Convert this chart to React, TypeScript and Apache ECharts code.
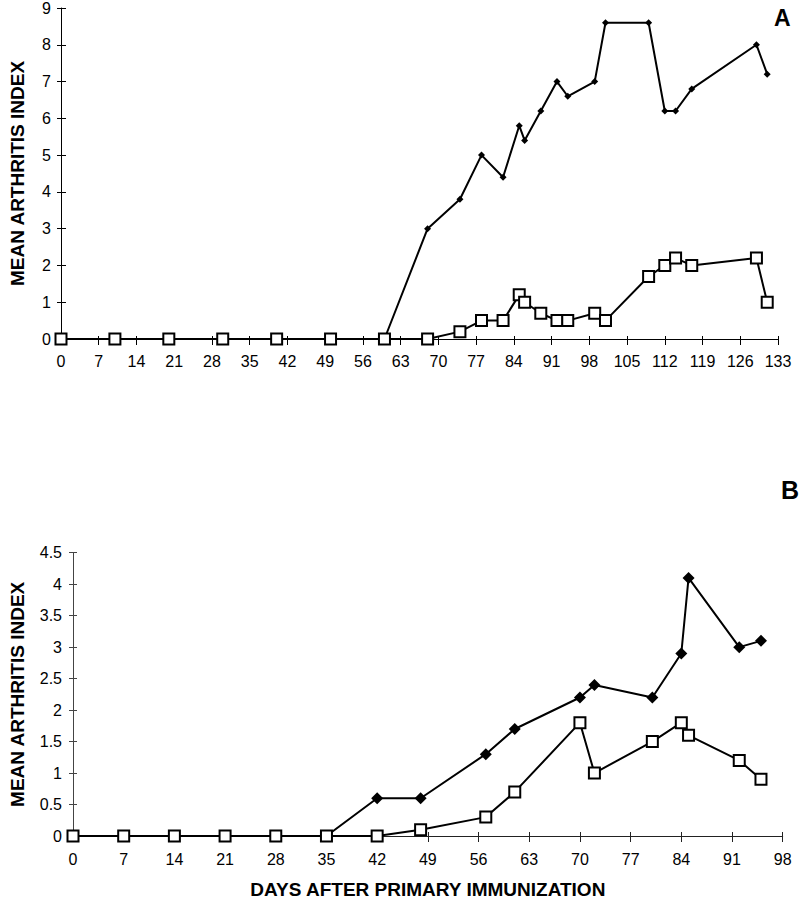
import React, { useEffect, useRef } from "react";
import * as echarts from "echarts";

// Panel A
const daysA = [0, 10, 20, 30, 40, 50, 60, 68, 74, 78, 82, 85, 86, 89, 92, 94, 99, 101, 109, 112, 114, 117, 129, 131];
const diamondA = [0, 0, 0, 0, 0, 0, 0, 3.0, 3.8, 5.0, 4.4, 5.8, 5.4, 6.2, 7.0, 6.6, 7.0, 8.6, 8.6, 6.2, 6.2, 6.8, 8.0, 7.2];
const squareA = [0, 0, 0, 0, 0, 0, 0, 0, 0.2, 0.5, 0.5, 1.2, 1.0, 0.7, 0.5, 0.5, 0.7, 0.5, 1.7, 2.0, 2.2, 2.0, 2.2, 1.0];

// Panel B
const daysB = [0, 7, 14, 21, 28, 35, 42, 48, 57, 61, 70, 72, 80, 84, 85, 92, 95];
const diamondB = [0, 0, 0, 0, 0, 0, 0.6, 0.6, 1.3, 1.7, 2.2, 2.4, 2.2, 2.9, 4.1, 3.0, 3.1];
const squareB = [0, 0, 0, 0, 0, 0, 0, 0.1, 0.3, 0.7, 1.8, 1.0, 1.5, 1.8, 1.6, 1.2, 0.9];

const yTitle = "MEAN ARTHRITIS INDEX";
const xTitle = "DAYS AFTER PRIMARY IMMUNIZATION";
const panelLabels = ["A", "B"];

const FONT = "Liberation Sans";

function zip(xs: number[], ys: number[]) {
  return xs.map((x, i) => [x, ys[i]]);
}

export default function App() {
  const ref = useRef<HTMLDivElement>(null);

  useEffect(() => {
    document.body.style.margin = "0";
    const chart = echarts.init(ref.current!, null, { renderer: "svg" });

    const axisCommon = (extra: any) => ({
      type: "value",
      splitLine: { show: false },
      ...extra,
    });

    const option: any = {
      animation: false,
      backgroundColor: "#fff",
      grid: [
        { left: 53, right: 22, top: 8, height: 331, containLabel: false },
        { left: 68.5, right: 17.3, top: 552.7, height: 285, containLabel: false },
      ],
      xAxis: [
        axisCommon({
          gridIndex: 0, position: "bottom", min: 0, max: 133, interval: 7,
          axisLine: { show: true, lineStyle: { color: "#000", width: 1 } },
          axisTick: { show: true, length: 6, lineStyle: { color: "#000" } },
          axisLabel: { fontFamily: FONT, fontSize: 16, color: "#000", margin: 14 },
        }),
        axisCommon({
          gridIndex: 0, position: "bottom", min: 0, max: 133, interval: 7,
          axisLine: { show: false },
          axisTick: { show: true, inside: true, length: 3, lineStyle: { color: "#000" } },
          axisLabel: { show: false },
        }),
        axisCommon({
          gridIndex: 1, position: "bottom", min: 0, max: 98, interval: 7,
          name: xTitle, nameLocation: "middle", nameGap: 44,
          nameTextStyle: { fontFamily: FONT, fontSize: 19, fontWeight: "bold", color: "#000" },
          axisLine: { show: true, lineStyle: { color: "#222", width: 1 } },
          axisTick: { show: true, length: 6, lineStyle: { color: "#222" } },
          axisLabel: { fontFamily: FONT, fontSize: 16, color: "#000", margin: 15 },
        }),
        axisCommon({
          gridIndex: 1, position: "bottom", min: 0, max: 98, interval: 7,
          axisLine: { show: false },
          axisTick: { show: true, inside: true, length: 4, lineStyle: { color: "#222" } },
          axisLabel: { show: false },
        }),
      ],
      yAxis: [
        axisCommon({
          gridIndex: 0, position: "left", min: 0, max: 9, interval: 1,
          name: yTitle, nameLocation: "middle", nameGap: 34, nameRotate: 90,
          nameTextStyle: { fontFamily: FONT, fontSize: 19, fontWeight: "bold", color: "#000" },
          axisLine: { show: true, lineStyle: { color: "#000", width: 1 } },
          axisTick: { show: true, length: 4, lineStyle: { color: "#000" } },
          axisLabel: { fontFamily: FONT, fontSize: 16, color: "#000", margin: 10 },
        }),
        axisCommon({
          gridIndex: 0, position: "left", min: 0, max: 9, interval: 1,
          axisLine: { show: false },
          axisTick: { show: true, inside: true, length: 5, lineStyle: { color: "#000" } },
          axisLabel: { show: false },
        }),
        axisCommon({
          gridIndex: 1, position: "left", min: 0, max: 4.5, interval: 0.5,
          name: yTitle, nameLocation: "middle", nameGap: 46, nameRotate: 90,
          nameTextStyle: { fontFamily: FONT, fontSize: 19, fontWeight: "bold", color: "#000" },
          axisLine: { show: true, lineStyle: { color: "#444", width: 1 } },
          axisTick: { show: true, length: 4, lineStyle: { color: "#444" } },
          axisLabel: { fontFamily: FONT, fontSize: 16, color: "#000", margin: 11 },
        }),
        axisCommon({
          gridIndex: 1, position: "left", min: 0, max: 4.5, interval: 0.5,
          axisLine: { show: false },
          axisTick: { show: true, inside: true, length: 4, lineStyle: { color: "#444" } },
          axisLabel: { show: false },
        }),
      ],
      series: [
        {
          type: "line", xAxisIndex: 0, yAxisIndex: 0, data: zip(daysA, diamondA),
          symbol: "diamond", symbolSize: 7, showAllSymbol: true,
          lineStyle: { color: "#000", width: 2 },
          itemStyle: { color: "#000", borderWidth: 0 },
          z: 2,
        },
        {
          type: "line", xAxisIndex: 0, yAxisIndex: 0, data: zip(daysA, squareA),
          symbol: "rect", symbolSize: 11, showAllSymbol: true,
          lineStyle: { color: "#000", width: 2 },
          itemStyle: { color: "#fff", borderColor: "#000", borderWidth: 2 },
          z: 3,
        },
        {
          type: "line", xAxisIndex: 2, yAxisIndex: 2, data: zip(daysB, diamondB),
          symbol: "diamond", symbolSize: 12, showAllSymbol: true,
          lineStyle: { color: "#000", width: 2 },
          itemStyle: { color: "#000", borderWidth: 0 },
          z: 2,
        },
        {
          type: "line", xAxisIndex: 2, yAxisIndex: 2, data: zip(daysB, squareB),
          symbol: "rect", symbolSize: 11, showAllSymbol: true,
          lineStyle: { color: "#000", width: 2 },
          itemStyle: { color: "#fff", borderColor: "#000", borderWidth: 2 },
          z: 3,
        },
      ],
      graphic: [
        {
          type: "text", left: 774, top: 6,
          style: { text: panelLabels[0], fontFamily: FONT, fontSize: 23, fontWeight: "bold", fill: "#000" },
        },
        {
          type: "text", left: 781, top: 477,
          style: { text: panelLabels[1], fontFamily: FONT, fontSize: 25, fontWeight: "bold", fill: "#000" },
        },
      ],
    };

    chart.setOption(option);
    return () => chart.dispose();
  }, []);

  return <div ref={ref} style={{ width: 800, height: 900 }} />;
}
